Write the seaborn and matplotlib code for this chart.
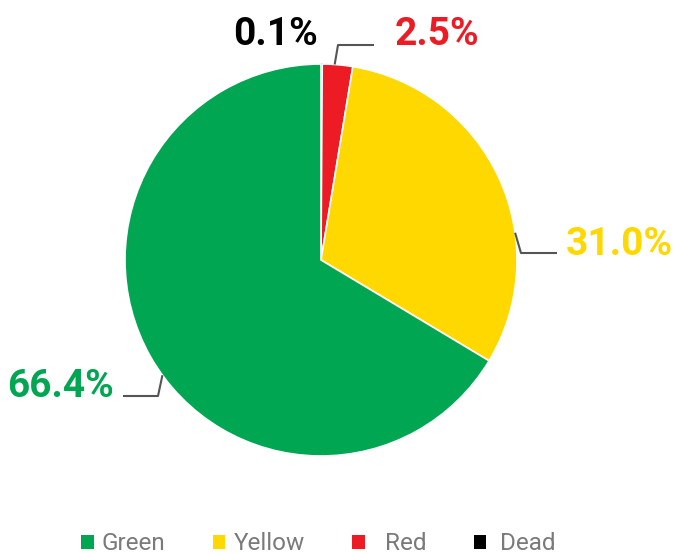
import numpy as np
import matplotlib.pyplot as plt
import seaborn as sns
from matplotlib.patches import Patch

# data (pie drawn clockwise from 12 o'clock)
categories = ['Dead', 'Red', 'Yellow', 'Green']
shares = [0.1, 2.5, 31.0, 66.4]
colors = ['#000000', '#ED1C24', '#FFD800', '#00A651']
legend_order = ['Green', 'Yellow', 'Red', 'Dead']
legend_labels = ['Green', 'Yellow', '  Red', ' Dead']

W, H = 675, 554
sns.set_theme(style='white')
plt.rcParams['font.family'] = ['Roboto', 'DejaVu Sans']

fig = plt.figure(figsize=(W / 100, H / 100), dpi=100)
ax = fig.add_axes([0, 0, 1, 1])

cx, cy, r = 321, H - 260, 196
wedges, _ = ax.pie(shares, colors=colors, startangle=90, counterclock=False,
                   center=(cx, cy), radius=r, frame=True,
                   wedgeprops=dict(edgecolor='white', linewidth=1.2))
wedges[0].set_edgecolor('#000000')
wedges[0].set_linewidth(1.0)
ax.set_xlim(0, W)
ax.set_ylim(0, H)
ax.set_aspect('equal')
ax.axis('off')

def on_rim(deg):
    a = np.radians(deg)
    return cx + r * np.cos(a), cy + r * np.sin(a)

# label layout: anchor angle on rim, elbow point, line end, text pos, alignment
layout = {
    'Red':    (86, (338, 45), (374, 45), (395, 45), 'left'),
    'Yellow': (8, (521, 253), (557, 253), (566, 255), 'left'),
    'Green':  (216, (158, 396), (123, 396), (114, 397), 'right'),
}
col = dict(zip(categories, colors))
val = dict(zip(categories, shares))
for name, (deg, elbow, end, tpos, ha) in layout.items():
    x0, y0 = on_rim(deg)
    ax.plot([x0, elbow[0], end[0]], [y0, H - elbow[1], H - end[1]],
            color='#555555', lw=1.5, solid_capstyle='butt')
    ax.text(tpos[0], H - tpos[1], f'{val[name]:.1f}%', color=col[name],
            fontsize=28, fontweight='bold', ha=ha, va='baseline')

ax.text(318, H - 45, f"{val['Dead']:.1f}%", color=col['Dead'],
        fontsize=28, fontweight='bold', ha='right', va='baseline')

handles = [Patch(facecolor=col[n], edgecolor='none') for n in legend_order]
leg = ax.legend(handles, legend_labels, loc='center left',
                bbox_to_anchor=(81, H - 544), bbox_transform=ax.transData,
                ncol=4, frameon=False, borderpad=0,
                borderaxespad=0, handlelength=0.52, handleheight=0.52,
                handletextpad=0.33, columnspacing=1.95,
                prop=dict(weight='normal', size=17.5))
for t in leg.get_texts():
    t.set_color('#7a7a7a')

fig.savefig('out.png', dpi=100)
